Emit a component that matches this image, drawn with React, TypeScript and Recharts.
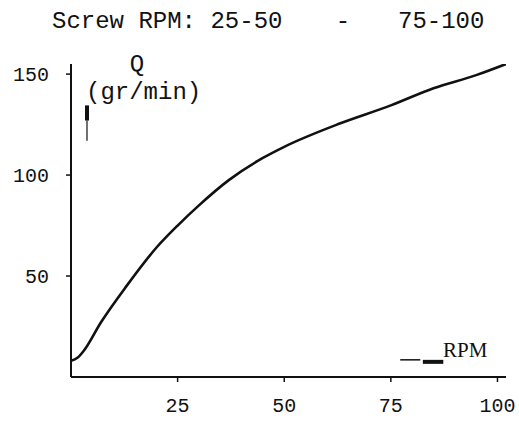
import { LineChart, Line, XAxis, YAxis, ReferenceLine } from "recharts";

// screw speed (RPM) vs output Q (gr/min)
const rpm = [0, 1.5, 3, 7, 13, 20, 25, 30, 37, 45, 50, 63, 75, 85, 95, 102];
const flow = [8, 9.5, 13, 27, 45, 64, 75, 85, 97.5, 108.5, 114, 125.5, 134.5, 143, 149.5, 155];

const xTicks = [25, 50, 75, 100];
const yTicks = [50, 100, 150];

const data = rpm.map((r, i) => ({ rpm: r, q: flow[i] }));

const MONO = "'Liberation Mono', 'DejaVu Sans Mono', monospace";
const SERIF = "'Liberation Serif', 'DejaVu Serif', serif";

export default function App() {
  return (
    <div style={{ position: "absolute", left: 0, top: 0, background: "#fff" }}>
      <LineChart
        width={519}
        height={421}
        data={data}
        margin={{ top: 64, right: 13, left: 11, bottom: 0 }}
      >
        <XAxis
          type="number"
          dataKey="rpm"
          domain={[0, 102]}
          ticks={xTicks}
          allowDataOverflow
          height={44}
          axisLine={{ stroke: "#111", strokeWidth: 2 }}
          tickLine={{ stroke: "#111", strokeWidth: 1.5 }}
          tickSize={5}
          tickMargin={16}
          tick={{ fill: "#111", fontFamily: MONO, fontSize: 20 }}
        />
        <YAxis
          type="number"
          domain={[0, 155]}
          ticks={yTicks}
          allowDataOverflow
          width={60}
          axisLine={{ stroke: "#111", strokeWidth: 2 }}
          tickLine={{ stroke: "#111", strokeWidth: 1.5 }}
          tickSize={5}
          tickMargin={17}
          tick={{ fill: "#111", fontFamily: MONO, fontSize: 20 }}
        />

        {/* little arrows drawn next to the axis names */}
        <ReferenceLine
          segment={[{ x: 3.75, y: 117 }, { x: 3.75, y: 127 }]}
          stroke="#111"
          strokeWidth={1.2}
        />
        <ReferenceLine
          segment={[{ x: 3.75, y: 127 }, { x: 3.75, y: 134.5 }]}
          stroke="#111"
          strokeWidth={4}
        />
        <ReferenceLine
          segment={[{ x: 77.2, y: 8.5 }, { x: 81.9, y: 8.5 }]}
          stroke="#111"
          strokeWidth={1.5}
        />
        <ReferenceLine
          segment={[{ x: 82.5, y: 7.5 }, { x: 87.3, y: 7.5 }]}
          stroke="#111"
          strokeWidth={4}
        />

        <Line
          type="monotone"
          dataKey="q"
          stroke="#111"
          strokeWidth={2.6}
          dot={false}
          isAnimationActive={false}
        />

        <text x={52} y={28} fontFamily={MONO} fontSize={24} fill="#111">
          Screw RPM: 25-50
        </text>
        <text x={343} y={28} fontFamily={MONO} fontSize={24} fill="#111" textAnchor="middle">
          -
        </text>
        <text x={398} y={28} fontFamily={MONO} fontSize={24} fill="#111">
          75-100
        </text>
        <text x={137} y={71} fontFamily={MONO} fontSize={24} fill="#111" textAnchor="middle">
          Q
        </text>
        <text x={86} y={99} fontFamily={MONO} fontSize={24} fill="#111">
          (gr/min)
        </text>
        <text x={443} y={357} fontFamily={SERIF} fontSize={21} fill="#111">
          RPM
        </text>
      </LineChart>
    </div>
  );
}
